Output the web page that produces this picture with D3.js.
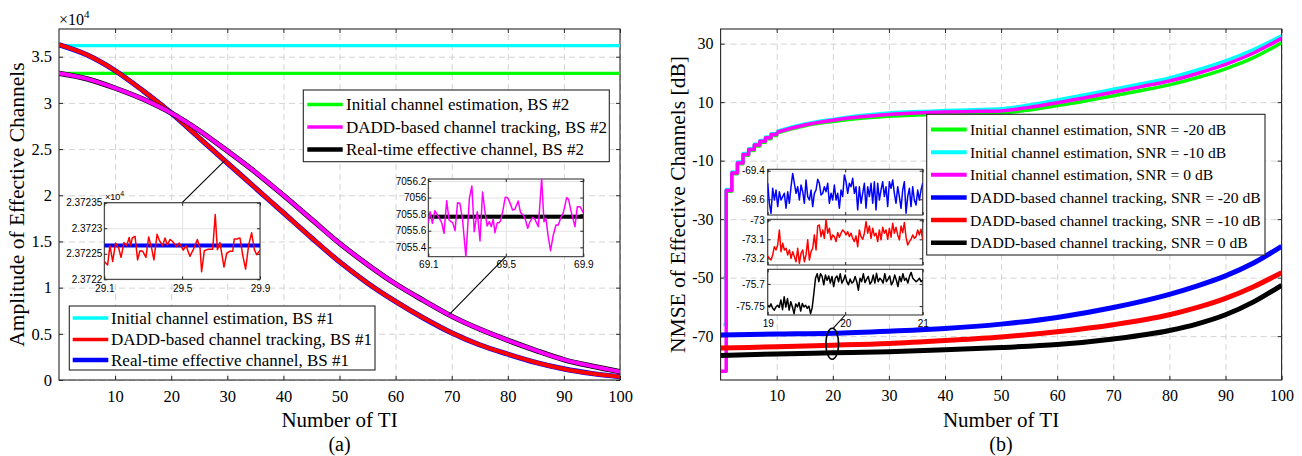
<!DOCTYPE html>
<html><head><meta charset="utf-8">
<script src="https://cdn.jsdelivr.net/npm/d3@7"></script>
<style>
body{margin:0;background:#fff}
svg{display:block}
text{font-family:"Liberation Serif","Times New Roman",serif;fill:#000}
</style>
</head><body>
<svg id="c" width="1302" height="456"></svg>
<script>
// ---------------- DATA : panel (a) ----------------
const tiA = [0,5,10,15,20,25,30,35,40,45,50,55,60,65,70,75,80,85,90,95,100];
const bs1Tracking = [3.63,3.52,3.35,3.13,2.89,2.62,2.35,2.08,1.81,1.54,1.28,1.05,0.85,0.67,0.51,0.38,0.28,0.19,0.12,0.07,0.035];
const bs1RealTime = [3.63,3.52,3.35,3.13,2.89,2.62,2.35,2.08,1.81,1.54,1.28,1.05,0.85,0.67,0.51,0.38,0.28,0.19,0.12,0.07,0.035];
const bs2Tracking = [3.32,3.26,3.16,3.04,2.89,2.70,2.48,2.25,2.00,1.74,1.48,1.25,1.04,0.86,0.69,0.55,0.43,0.32,0.22,0.15,0.09];
const bs2RealTime = [3.32,3.26,3.16,3.04,2.89,2.70,2.48,2.25,2.00,1.74,1.48,1.25,1.04,0.86,0.69,0.55,0.43,0.32,0.22,0.15,0.09];
const tiInitA = [0,100];
const bs1Initial = [3.62,3.62];
const bs2Initial = [3.32,3.32];
const yTicksA = [0,0.5,1,1.5,2,2.5,3,3.5];
const xTicks = [10,20,30,40,50,60,70,80,90,100];

// inset 1 (BS #1, TI 29.1-29.9), values x10^4
const in1X = [29.100,29.117,29.129,29.143,29.158,29.174,29.186,29.201,29.215,29.228,29.235,29.244,29.258,29.271,29.283,29.297,29.314,29.328,29.343,29.355,29.371,29.383,29.400,29.412,29.424,29.437,29.451,29.472,29.485,29.506,29.520,29.540,29.557,29.578,29.592,29.600,29.614,29.634,29.657,29.670,29.681,29.694,29.715,29.729,29.746,29.760,29.768,29.780,29.797,29.811,29.826,29.842,29.857,29.871,29.883,29.900];
const in1Track = [2.372235,2.372228,2.372266,2.372235,2.372271,2.372261,2.372243,2.372272,2.372266,2.372282,2.372266,2.372281,2.372284,2.372238,2.372256,2.372255,2.372243,2.372283,2.372261,2.372238,2.372288,2.372276,2.372266,2.372281,2.372267,2.372278,2.372274,2.372264,2.372271,2.372257,2.372266,2.372245,2.372258,2.372278,2.372261,2.372215,2.372256,2.372259,2.372259,2.372327,2.372258,2.372272,2.372224,2.372251,2.372255,2.372255,2.372279,2.372279,2.372281,2.372248,2.372220,2.372268,2.372291,2.372258,2.372248,2.372257];
const in1RealX = [29.1,29.9];
const in1Real = [2.372266,2.372266];
const in1YTicks = [2.3722,2.37225,2.3723,2.37235];
const in1XTicks = [29.1,29.5,29.9];

// inset 2 (BS #2, TI 69.1-69.9)
const in2X = [69.100,69.109,69.121,69.134,69.152,69.169,69.181,69.195,69.207,69.217,69.226,69.238,69.251,69.263,69.277,69.294,69.312,69.325,69.337,69.353,69.367,69.380,69.394,69.404,69.415,69.425,69.435,69.444,69.456,69.466,69.473,69.484,69.497,69.509,69.521,69.535,69.547,69.564,69.576,69.590,69.602,69.613,69.625,69.638,69.650,69.668,69.685,69.697,69.707,69.719,69.731,69.745,69.759,69.771,69.783,69.797,69.814,69.824,69.836,69.857,69.869,69.883,69.900];
const in2Track = [7055.689,7055.830,7055.689,7055.842,7055.770,7055.697,7055.569,7055.963,7055.730,7055.710,7055.697,7055.601,7055.939,7055.931,7055.730,7055.280,7055.991,7056.140,7055.589,7055.830,7055.476,7056.067,7055.802,7055.657,7055.710,7055.649,7055.738,7055.577,7055.697,7055.697,7055.722,7055.830,7056.003,7055.999,7055.939,7055.850,7055.858,7055.959,7055.818,7055.790,7055.730,7055.629,7055.710,7055.762,7055.738,7055.649,7056.232,7055.710,7055.750,7055.529,7055.360,7055.549,7055.669,7055.669,7055.750,7055.818,7055.999,7055.979,7055.842,7055.649,7055.890,7055.890,7055.818];
const in2RealX = [69.1,69.9];
const in2Real = [7055.77,7055.77];
const in2YTicks = [7055.4,7055.6,7055.8,7056,7056.2];
const in2XTicks = [69.1,69.5,69.9];

// ---------------- DATA : panel (b) ----------------
const tiInitM = [0,1,2,3,4,5,6,7,8,9,10,15,20,25,30,35,40,45,50,55,60,65,70,75,80,85,90,95,100];
const tiInitGC = [0.5,1,2,3,4,5,6,7,8,9,10,15,20,25,30,35,40,45,50,55,60,65,70,75,80,85,90,95,100];
const initSnrM20 = [-50,-20.5,-14.5,-11.1,-8.2,-6.5,-5.0,-3.7,-2.5,-1.4,-0.6,1.9,3.4,4.5,5.2,5.6,5.9,6.1,6.3,7.3,8.8,10.4,12.2,14.0,15.9,18.4,21.4,25.2,30.3];
const initSnrM10 = [-66,-19.9,-13.9,-10.5,-7.6,-5.9,-4.4,-3.1,-1.9,-0.8,0.0,2.5,4.1,5.4,6.3,6.8,7.1,7.4,7.7,9.0,10.7,12.5,14.4,16.3,18.3,21.0,24.1,28.0,32.7];
const initSnr0 = [-82,-20.2,-14.2,-10.8,-7.9,-6.2,-4.7,-3.4,-2.2,-1.1,-0.3,2.2,3.8,5.0,5.8,6.3,6.6,6.8,7.0,8.2,9.8,11.5,13.4,15.3,17.2,19.8,22.9,26.8,31.8];
const tiDadd = [0,10,20,30,40,50,60,70,80,85,90,95,100];
const daddSnrM20 = [-69.6,-69.3,-69.0,-68.3,-67.4,-65.9,-63.6,-60.2,-55.7,-52.8,-49.4,-45.0,-39.3];
const daddSnrM10 = [-74.1,-73.6,-73.1,-72.5,-71.5,-70.3,-68.5,-66.1,-62.7,-60.2,-57.1,-53.1,-48.3];
const daddSnr0 = [-76.6,-76.1,-75.7,-75.3,-74.7,-73.9,-72.9,-71.0,-68.1,-65.8,-62.7,-58.3,-52.6];
const yTicksB = [-70,-50,-30,-10,10,30];

// zoomed insets of panel (b), TI 19-21, evenly sampled
const zBlue = [-69.488,-69.628,-69.698,-69.523,-69.605,-69.535,-69.651,-69.547,-69.605,-69.581,-69.558,-69.663,-69.547,-69.628,-69.512,-69.419,-69.488,-69.558,-69.512,-69.605,-69.500,-69.547,-69.628,-69.465,-69.581,-69.605,-69.535,-69.651,-69.558,-69.535,-69.460,-69.488,-69.570,-69.558,-69.512,-69.547,-69.488,-69.628,-69.558,-69.605,-69.500,-69.605,-69.558,-69.663,-69.535,-69.581,-69.430,-69.477,-69.558,-69.488,-69.512,-69.453,-69.558,-69.512,-69.674,-69.512,-69.628,-69.558,-69.488,-69.663,-69.512,-69.581,-69.488,-69.628,-69.477,-69.674,-69.488,-69.605,-69.535,-69.477,-69.581,-69.512,-69.651,-69.477,-69.523,-69.465,-69.558,-69.628,-69.512,-69.581,-69.663,-69.535,-69.477,-69.698,-69.581,-69.523,-69.651,-69.512,-69.605,-69.640,-69.535,-69.605,-69.535,-69.488];
const zRed = [-73.188,-73.200,-73.209,-73.182,-73.139,-73.156,-73.130,-73.051,-73.165,-73.121,-73.156,-73.147,-73.182,-73.156,-73.200,-73.165,-73.191,-73.218,-73.147,-73.226,-73.174,-73.156,-73.218,-73.182,-73.103,-73.209,-73.165,-73.147,-73.077,-73.156,-73.030,-73.025,-73.086,-73.051,-73.095,-72.998,-73.068,-73.042,-73.103,-73.077,-73.086,-73.112,-73.065,-73.089,-73.068,-73.051,-73.060,-73.077,-73.060,-73.086,-73.068,-73.095,-73.112,-73.082,-73.139,-73.051,-73.086,-73.100,-73.068,-73.007,-73.068,-73.030,-73.095,-73.042,-73.082,-73.068,-73.112,-73.051,-73.103,-73.037,-73.068,-73.051,-73.100,-73.042,-73.089,-73.016,-73.068,-73.037,-73.077,-73.103,-73.030,-73.065,-73.012,-73.089,-73.130,-73.112,-73.100,-73.077,-73.095,-73.086,-73.051,-73.077,-73.047,-73.103];
const zBlack = [-75.748,-75.752,-75.745,-75.755,-75.759,-75.752,-75.748,-75.753,-75.736,-75.758,-75.729,-75.752,-75.733,-75.759,-75.740,-75.752,-75.767,-75.745,-75.752,-75.742,-75.761,-75.744,-75.752,-75.748,-75.755,-75.750,-75.767,-75.753,-75.721,-75.687,-75.677,-75.695,-75.677,-75.683,-75.702,-75.680,-75.692,-75.682,-75.698,-75.683,-75.706,-75.687,-75.682,-75.695,-75.677,-75.698,-75.691,-75.680,-75.695,-75.702,-75.689,-75.698,-75.695,-75.683,-75.695,-75.714,-75.687,-75.695,-75.677,-75.697,-75.689,-75.683,-75.700,-75.695,-75.680,-75.698,-75.676,-75.695,-75.687,-75.691,-75.698,-75.677,-75.695,-75.689,-75.682,-75.702,-75.695,-75.680,-75.691,-75.706,-75.683,-75.695,-75.677,-75.692,-75.687,-75.698,-75.683,-75.674,-75.687,-75.691,-75.695,-75.692,-75.687,-75.695,-75.691];
const zXTicks = [19,20,21];

// legends
const legA1 = ["Initial channel estimation, BS #2","DADD-based channel tracking, BS #2","Real-time effective channel, BS #2"];
const legA2 = ["Initial channel estimation, BS #1","DADD-based channel tracking, BS #1","Real-time effective channel, BS #1"];
const legB = ["Initial channel estimation, SNR = -20 dB","Initial channel estimation, SNR = -10 dB","Initial channel estimation, SNR = 0 dB","DADD-based channel tracking, SNR = -20 dB","DADD-based channel tracking, SNR = -10 dB","DADD-based channel tracking, SNR = 0 dB"];

// ---------------- DRAWING ----------------
const svg = d3.select('#c');
const FR = '#262626';
const zip = (xs, ys) => xs.map((x,i)=>[x, ys[i]]);

function frame(g, x, y, xt, yt, o){
  const [x0,x1] = x.range(), [yb,yt0] = y.range();
  const w = x1-x0, h = yb-yt0;
  if (o.bg) g.append('rect').attr('x',x0).attr('y',yt0).attr('width',w).attr('height',h).attr('fill','#fff');
  const gx = g.append('g').attr('transform',`translate(0,${yb})`)
    .call(d3.axisBottom(x).tickValues(xt).tickSize(-h).tickFormat(''));
  const gy = g.append('g').attr('transform',`translate(${x0},0)`)
    .call(d3.axisLeft(y).tickValues(yt).tickSize(-w).tickFormat(''));
  [gx,gy].forEach(a=>{ a.select('.domain').remove();
    a.selectAll('line').attr('stroke',o.gridColor).attr('stroke-width',o.gridW||1)
     .attr('stroke-dasharray',o.dash||null); });
}
function ticksAndLabels(g, x, y, xt, yt, o){
  const [x0,x1] = x.range(), [yb,yt0] = y.range();
  const ts = o.tick;
  const fmtX = o.fmtX || (d=>d), fmtY = o.fmtY || (d=>d);
  const ab = g.append('g').attr('transform',`translate(0,${yb})`)
    .call(d3.axisBottom(x).tickValues(xt).tickSizeInner(-ts).tickSizeOuter(0).tickPadding(o.padX).tickFormat(o.noXLabels?'':fmtX));
  const at = g.append('g').attr('transform',`translate(0,${yt0})`)
    .call(d3.axisTop(x).tickValues(xt).tickSizeInner(-ts).tickSizeOuter(0).tickFormat(''));
  const al = g.append('g').attr('transform',`translate(${x0},0)`)
    .call(d3.axisLeft(y).tickValues(yt).tickSizeInner(-ts).tickSizeOuter(0).tickPadding(o.padY).tickFormat(fmtY));
  const ar = g.append('g').attr('transform',`translate(${x1},0)`)
    .call(d3.axisRight(y).tickValues(yt).tickSizeInner(-ts).tickSizeOuter(0).tickFormat(''));
  [ab,at,al,ar].forEach(a=>{ a.select('.domain').remove();
    a.attr('font-family',null).attr('font-size',null);
    a.selectAll('line').attr('stroke',FR).attr('stroke-width',1);
    a.selectAll('text').attr('fill',o.labelColor||'#000').style('font-size',o.fs+'px')
      .style('font-family',o.font); });
  g.append('rect').attr('x',x0).attr('y',yt0).attr('width',x1-x0).attr('height',yb-yt0)
    .attr('fill','none').attr('stroke',FR).attr('stroke-width',o.frameW||1.1);
}
function clip(id, x, y){
  const [x0,x1] = x.range(), [yb,yt0] = y.range();
  svg.append('clipPath').attr('id',id).append('rect').attr('x',x0).attr('y',yt0).attr('width',x1-x0).attr('height',yb-yt0);
  return svg.append('g').attr('clip-path',`url(#${id})`);
}
function drawLine(g, pts, x, y, color, w, curve){
  g.append('path').datum(pts).attr('fill','none').attr('stroke',color).attr('stroke-width',w)
   .attr('stroke-linejoin','round')
   .attr('d', d3.line().x(d=>x(d[0])).y(d=>y(d[1])).curve(curve||d3.curveMonotoneX));
}
function legend(g, box, items, colors, widths, ys, lx, tx, fs){
  g.append('rect').attr('x',box[0]).attr('y',box[1]).attr('width',box[2]-box[0]).attr('height',box[3]-box[1])
    .attr('fill','#fff').attr('stroke',FR).attr('stroke-width',1.1);
  items.forEach((t,i)=>{
    g.append('line').attr('x1',lx[0]).attr('x2',lx[1]).attr('y1',ys[i]).attr('y2',ys[i])
      .attr('stroke',colors[i]).attr('stroke-width',widths[i]);
    g.append('text').attr('x',tx).attr('y',ys[i]).attr('dy','0.35em').style('font-size',fs+'px').text(t);
  });
}
const SERIF = '"Liberation Serif","Times New Roman",serif';
const SANS = '"Liberation Sans",Arial,sans-serif';

// ======== Panel (a) ========
const xA = d3.scaleLinear([0,100],[59,620]);
const yA = d3.scaleLinear([0,3.8],[380,29]);
const gA = svg.append('g');
frame(gA, xA, yA, xTicks, yTicksA, {gridColor:'#d4d4d4', dash:'6,4'});
const cA = clip('clipA', xA, yA);
drawLine(cA, zip(tiInitA,bs1Initial), xA, yA, '#00ffff', 3.3, d3.curveLinear);
drawLine(cA, zip(tiInitA,bs2Initial), xA, yA, '#00ff00', 3.3, d3.curveLinear);
drawLine(cA, zip(tiA,bs1RealTime), xA, yA, '#0000ff', 5.2);
drawLine(cA, zip(tiA,bs1Tracking), xA, yA, '#ff0000', 4);
drawLine(cA, zip(tiA,bs2RealTime), xA, yA, '#000000', 5.2);
drawLine(cA, zip(tiA,bs2Tracking), xA, yA, '#ff00ff', 4);
ticksAndLabels(gA, xA, yA, xTicks, yTicksA, {tick:4, padX:10, padY:7, fs:16.5, font:SERIF});
// x10^4
const eA = svg.append('text').attr('x',59).attr('y',25).style('font-size','16px');
eA.append('tspan').text('\u00d710');
eA.append('tspan').attr('dy',-7).style('font-size','11px').text('4');

// inset 1
const i1x = d3.scaleLinear([29.1,29.9],[104.3,260]);
const i1y = d3.scaleLinear([2.3722,2.37235],[279.3,202.7]);
svg.append('line').attr('x1',xA(29.5)).attr('y1',yA(2.37225)).attr('x2',i1x(29.5)).attr('y2',i1y(2.37235))
  .attr('stroke','#000').attr('stroke-width',1.1);
const gI1 = svg.append('g');
frame(gI1, i1x, i1y, in1XTicks, in1YTicks, {gridColor:'#e3e3e3', bg:true});
const cI1 = clip('clipI1', i1x, i1y);
drawLine(cI1, zip(in1RealX,in1Real), i1x, i1y, '#0000ff', 4, d3.curveLinear);
drawLine(cI1, zip(in1X,in1Track), i1x, i1y, '#ff0000', 1.5, d3.curveLinear);
ticksAndLabels(gI1, i1x, i1y, in1XTicks, in1YTicks, {tick:3, padX:6, padY:2, fs:10, font:SANS, labelColor:'#262626', fmtY:d=>String(+d.toFixed(5)), frameW:1});
const eI = svg.append('text').attr('x',105).attr('y',200).style('font-family',SANS).style('font-size','9px').attr('fill','#262626');
eI.append('tspan').text('\u00d710');
eI.append('tspan').attr('dy',-4).style('font-size','7px').text('4');

// inset 2
const i2x = d3.scaleLinear([69.1,69.9],[428.3,583.3]);
const i2y = d3.scaleLinear([7055.287,7056.224],[256.7,179]);
svg.append('line').attr('x1',xA(69.5)).attr('y1',yA(0.70558)).attr('x2',i2x(69.5)).attr('y2',i2y(7055.287))
  .attr('stroke','#000').attr('stroke-width',1.1);
const gI2 = svg.append('g');
frame(gI2, i2x, i2y, in2XTicks, in2YTicks, {gridColor:'#e3e3e3', bg:true});
const cI2 = clip('clipI2', i2x, i2y);
drawLine(cI2, zip(in2RealX,in2Real), i2x, i2y, '#000000', 4, d3.curveLinear);
drawLine(cI2, zip(in2X,in2Track), i2x, i2y, '#ff00ff', 1.5, d3.curveLinear);
ticksAndLabels(gI2, i2x, i2y, in2XTicks, in2YTicks, {tick:3, padX:4, padY:2, fs:10, font:SANS, labelColor:'#262626', frameW:1});

// legends (a)
legend(svg.append('g'), [303.3,90,609.3,161.7], legA1, ['#00ff00','#ff00ff','#000000'], [3.3,3.7,4.5],
  [104.5,127,149.5], [307.3,342.7], 346, 17);
legend(svg.append('g'), [69.3,306,375,370], legA2, ['#00ffff','#ff0000','#0000ff'], [3.5,3.5,4.5],
  [318,339.5,360], [72.7,108.3], 111, 17);

// titles (a)
svg.append('text').attr('x',339.5).attr('y',427).attr('text-anchor','middle').style('font-size','21px').text('Number of TI');
svg.append('text').attr('x',339.5).attr('y',451).attr('text-anchor','middle').style('font-size','20px').text('(a)');
svg.append('text').attr('transform','translate(24,204.5) rotate(-90)').attr('text-anchor','middle').style('font-size','21.5px').text('Amplitude of Effective Channels');

// ======== Panel (b) ========
const xB = d3.scaleLinear([0,100],[720.6,1281.6]);
const yB = d3.scaleLinear([-85,35],[380,29]);
const gB = svg.append('g');
frame(gB, xB, yB, xTicks, yTicksB, {gridColor:'#d4d4d4', dash:'6,4'});
const cB = clip('clipB', xB, yB);
function stepThenSmooth(g, xs, ys, color, w){
  const pts = zip(xs, ys);
  const k = xs.indexOf(10);
  drawLine(g, pts.slice(0,k+1), xB, yB, color, w, d3.curveStepAfter);
  drawLine(g, pts.slice(k), xB, yB, color, w, d3.curveMonotoneX);
}
stepThenSmooth(cB, tiInitGC, initSnrM20, '#00ff00', 3.5);
stepThenSmooth(cB, tiInitGC, initSnrM10, '#00ffff', 3.5);
stepThenSmooth(cB, tiInitM, initSnr0, '#ff00ff', 3.5);
drawLine(cB, zip(tiDadd,daddSnrM20), xB, yB, '#0000ff', 5);
drawLine(cB, zip(tiDadd,daddSnrM10), xB, yB, '#ff0000', 5);
drawLine(cB, zip(tiDadd,daddSnr0), xB, yB, '#000000', 5);
ticksAndLabels(gB, xB, yB, xTicks, yTicksB, {tick:4, padX:10, padY:7, fs:16, font:SERIF});

// ellipse + connector
svg.append('ellipse').attr('cx',xB(19.9)).attr('cy',yB(-72.6)).attr('rx',6.3).attr('ry',15.5)
  .attr('fill','none').attr('stroke','#000').attr('stroke-width',1.6);

// zoom insets (b)
const zx = d3.scaleLinear([19,21],[767.7,922.7]);
const panels = [
  {data:zBlue, color:'#0000ff', dom:[-69.71,-69.39], rng:[215,169.3], ticks:[-69.6,-69.4]},
  {data:zRed, color:'#ff0000', dom:[-73.235,-72.995], rng:[265,219.3], ticks:[-73.2,-73.1,-73]},
  {data:zBlack, color:'#000000', dom:[-75.770,-75.667], rng:[315,269.3], ticks:[-75.75,-75.7]}
];
svg.append('line').attr('x1',xB(20.1)).attr('y1',yB(-72.6)-15.5).attr('x2',zx(20)).attr('y2',315)
  .attr('stroke','#000').attr('stroke-width',1.1);
panels.forEach((p,pi)=>{
  const py = d3.scaleLinear(p.dom, p.rng);
  const g = svg.append('g');
  frame(g, zx, py, zXTicks, p.ticks, {gridColor:'#e3e3e3', bg:true});
  const c = clip('clipZ'+pi, zx, py);
  const n = p.data.length;
  const pts = p.data.map((v,i)=>[19 + i*2/(n-1), v]);
  drawLine(c, pts, zx, py, p.color, 1.5, d3.curveLinear);
  ticksAndLabels(g, zx, py, zXTicks, p.ticks, {tick:3, padX:5, padY:3, fs:10, font:SANS, labelColor:'#262626', noXLabels: pi<2, frameW:1});
});

// legend (b)
legend(svg.append('g'), [926.7,114.3,1265,255], legB,
  ['#00ff00','#00ffff','#ff00ff','#0000ff','#ff0000','#000000'], [4,4,4,4.5,4.5,4.5],
  legB.map((d,i)=>129.5+i*22.65), [931,966.7], 970, 15.6);

// titles (b)
svg.append('text').attr('x',1001).attr('y',427).attr('text-anchor','middle').style('font-size','21px').text('Number of TI');
svg.append('text').attr('x',1001).attr('y',451).attr('text-anchor','middle').style('font-size','20px').text('(b)');
svg.append('text').attr('transform','translate(685,204.5) rotate(-90)').attr('text-anchor','middle').style('font-size','21.5px').text('NMSE of Effective Channels [dB]');
</script>
</body></html>
